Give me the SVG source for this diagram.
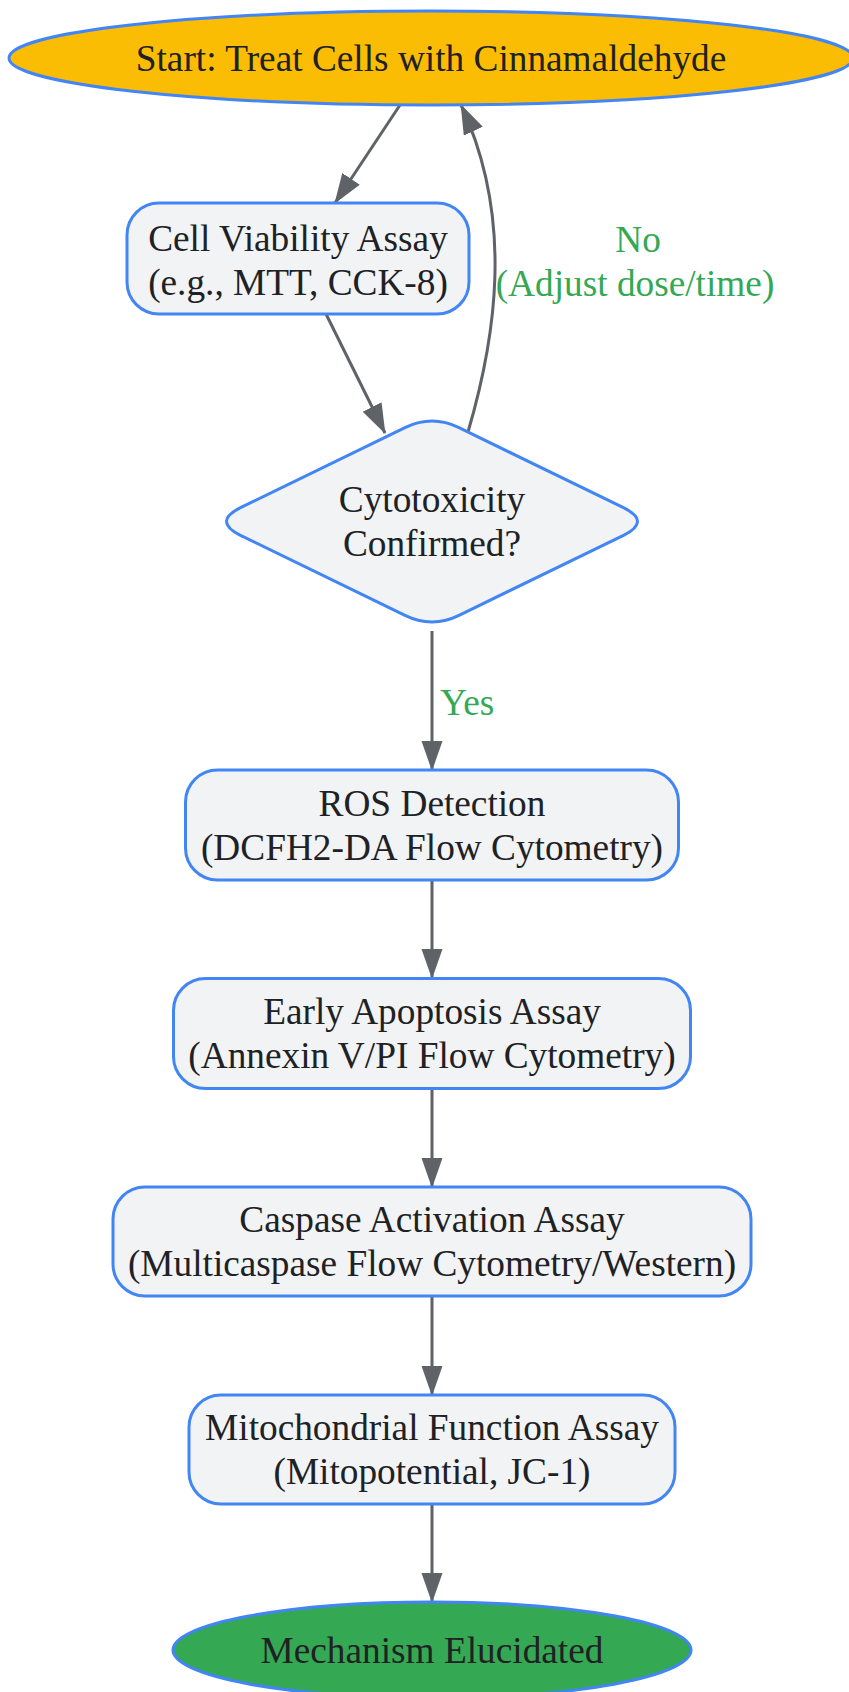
<svg xmlns="http://www.w3.org/2000/svg" width="849" height="1692" viewBox="0 0 849 1692">
<defs>
<style>
.node{fill:#f1f3f4;stroke:#4285f4;stroke-width:3}
.t{font-family:"Liberation Serif","Times New Roman",serif;font-size:37.3px;fill:#202124;text-anchor:middle}
.lbl{font-family:"Liberation Serif","Times New Roman",serif;font-size:37.3px;fill:#34a853}
.edge{fill:none;stroke:#5f6368;stroke-width:3}
</style>
<marker id="arr" markerUnits="userSpaceOnUse" markerWidth="30" markerHeight="22" refX="29" refY="10.5" orient="auto">
<path d="M0,0 L30,10.5 L0,21 Z" fill="#5f6368"/>
</marker>
</defs>
<rect width="849" height="1692" fill="#ffffff"/>
<g id="connectors">
<path class="edge" d="M400,105 L335,203" marker-end="url(#arr)"/>
<path class="edge" d="M326,314 L385,433" marker-end="url(#arr)"/>
<path class="edge" d="M468,432 C495,340 515,220 461,105" marker-end="url(#arr)"/>
<path class="edge" d="M432,631 L432,770" marker-end="url(#arr)"/>
<path class="edge" d="M432,880 L432,978" marker-end="url(#arr)"/>
<path class="edge" d="M432,1088 L432,1187" marker-end="url(#arr)"/>
<path class="edge" d="M432,1296 L432,1395" marker-end="url(#arr)"/>
<path class="edge" d="M432,1504 L432,1602" marker-end="url(#arr)"/>
<text class="lbl" x="638" y="252" text-anchor="middle">No</text>
<text class="lbl" x="635" y="296" text-anchor="middle">(Adjust dose/time)</text>
<text class="lbl" x="440" y="715">Yes</text>
</g>
<g id="start">
<ellipse cx="431" cy="58" rx="422" ry="47" fill="#fbbc04" stroke="#4285f4" stroke-width="3"/>
<text class="t" x="431" y="71">Start: Treat Cells with Cinnamaldehyde</text>
</g>
<g id="viability">
<rect class="node" x="127" y="203" width="342" height="111" rx="32"/>
<text class="t" x="298" y="251">Cell Viability Assay</text>
<text class="t" x="298" y="295">(e.g., MTT, CCK-8)</text>
</g>
<g id="decision">
<path class="node" d="M405,427.7 Q432,414.5 459,427.7 L624,507.9 Q651,521.5 624,535.1 L459,615.3 Q432,628.5 405,615.3 L240,535.1 Q213,521.5 240,507.9 Z"/>
<text class="t" x="432" y="512">Cytotoxicity</text>
<text class="t" x="432" y="556">Confirmed?</text>
</g>
<g id="ros">
<rect class="node" x="185.5" y="770" width="493" height="110" rx="32"/>
<text class="t" x="432" y="816">ROS Detection</text>
<text class="t" x="432" y="860">(DCFH2-DA Flow Cytometry)</text>
</g>
<g id="apoptosis">
<rect class="node" x="173.5" y="978.5" width="517" height="110" rx="32"/>
<text class="t" x="432" y="1024">Early Apoptosis Assay</text>
<text class="t" x="432" y="1068">(Annexin V/PI Flow Cytometry)</text>
</g>
<g id="caspase">
<rect class="node" x="113" y="1187" width="638" height="109" rx="32"/>
<text class="t" x="432" y="1232">Caspase Activation Assay</text>
<text class="t" x="432" y="1276">(Multicaspase Flow Cytometry/Western)</text>
</g>
<g id="mito">
<rect class="node" x="189" y="1395" width="486" height="109" rx="32"/>
<text class="t" x="432" y="1440">Mitochondrial Function Assay</text>
<text class="t" x="432" y="1484">(Mitopotential, JC-1)</text>
</g>
<g id="end">
<ellipse cx="432" cy="1650" rx="259" ry="48" fill="#34a853" stroke="#4285f4" stroke-width="3"/>
<text class="t" x="432" y="1663">Mechanism Elucidated</text>
</g>
</svg>
